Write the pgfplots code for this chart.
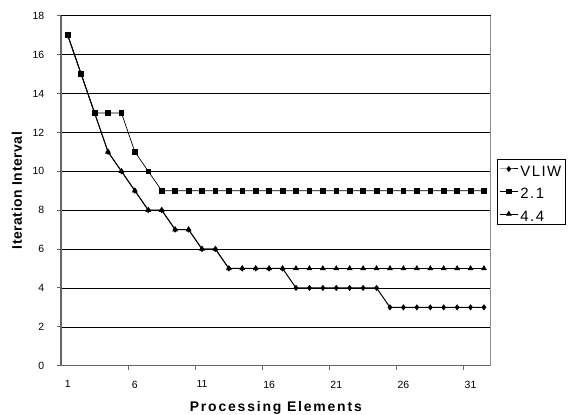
\documentclass[border=0pt]{standalone}
\usepackage{fontspec}
\setmainfont{Liberation Sans}
\newfontfamily\xlabfont{Liberation Sans}[LetterSpace=13]
\newfontfamily\ylabfont{Liberation Sans}[LetterSpace=4]
\newfontfamily\legfont{Liberation Sans}[LetterSpace=10]
\usepackage{pgfplots}
\usepackage{pgfplotstable}
\pgfplotsset{compat=1.18}

% processing elements vs. iteration interval
\pgfplotstableread{
pe vliw s21 s44
1  17 17 17
2  15 15 15
3  13 13 13
4  11 13 11
5  10 13 10
6  9  11 9
7  8  10 8
8  8  9  8
9  7  9  7
10 7  9  7
11 6  9  6
12 6  9  6
13 5  9  5
14 5  9  5
15 5  9  5
16 5  9  5
17 5  9  5
18 4  9  5
19 4  9  5
20 4  9  5
21 4  9  5
22 4  9  5
23 4  9  5
24 4  9  5
25 3  9  5
26 3  9  5
27 3  9  5
28 3  9  5
29 3  9  5
30 3  9  5
31 3  9  5
32 3  9  5
}\petable

\begin{document}
\begin{tikzpicture}
\begin{axis}[
    scale only axis,
    width=429.7bp, height=350bp,
    xmin=0.5, xmax=32.5,
    ymin=0, ymax=18,
    clip=false,
    axis x line*=bottom,
    axis y line*=left,
    axis line style={draw=black!60, line width=1.3bp},
    tick align=outside,
    major tick length=4bp,
    minor tick length=4bp,
    xtick={1,6,11,16,21,26,31},
    minor xtick={5.5,10.5,15.5,20.5,25.5,30.5},
    major x tick style={draw=none},
    minor x tick style={draw=black!60, line width=1bp},
    ytick={0,2,...,18},
    major y tick style={draw=black!60, line width=1bp},
    ymajorgrids,
    major grid style={draw=black, line width=0.6bp},
    /pgf/number format/assume math mode=true,
    ticklabel style={font=\fontsize{10.5}{12}\selectfont},
    x tick label style={yshift=-7.5bp},
    y tick label style={xshift=-9.2bp},
    xlabel={\xlabfont\bfseries Processing Elements},
    xlabel style={at={(axis description cs:0.5,-0.1309)}, anchor=base, font=\fontsize{14}{16}\selectfont},
    ylabel={\ylabfont\bfseries Iteration Interval},
    ylabel style={at={(axis description cs:-0.1024,0.5)}, anchor=center, font=\fontsize{14}{16}\selectfont},
    legend cell align=left,
    legend image code/.code={\draw[mark repeat=2,mark phase=2,#1,yshift=0.3bp] plot coordinates {(0bp,0bp)(9bp,0bp)(18bp,0bp)};},
    legend style={at={(axis description cs:1.0147,0.5906)}, anchor=north west,
        draw=black, line width=0.6bp,
        font=\legfont\fontsize{15}{18}\selectfont,
        inner xsep=2bp, inner ysep=2.5bp, row sep=7.5bp,
        nodes={inner ysep=0bp, inner xsep=2bp, text height=14.5bp, text depth=0.5bp}},
]
\coordinate (sw) at (rel axis cs:0,0);
\coordinate (ne) at (rel axis cs:1,1);
\draw[black!45, line width=1bp] (rel axis cs:1,0) -- (rel axis cs:1,1);

\addplot[black, line width=1bp, mark=diamond*, mark size=2.3bp] table[x=pe, y=vliw] {\petable};
\addplot[black, line width=0.7bp, mark=square*, mark size=2.3bp] table[x=pe, y=s21] {\petable};
\addplot[black, line width=0.7bp, mark=triangle*, mark size=2.7bp] table[x=pe, y=s44] {\petable};
\legend{VLIW, 2.1, 4.4}
\end{axis}
\pgfresetboundingbox
\useasboundingbox ([xshift=-61bp,yshift=-49.3bp]sw) rectangle ([xshift=78.3bp,yshift=15.7bp]ne);
\end{tikzpicture}
\end{document}
